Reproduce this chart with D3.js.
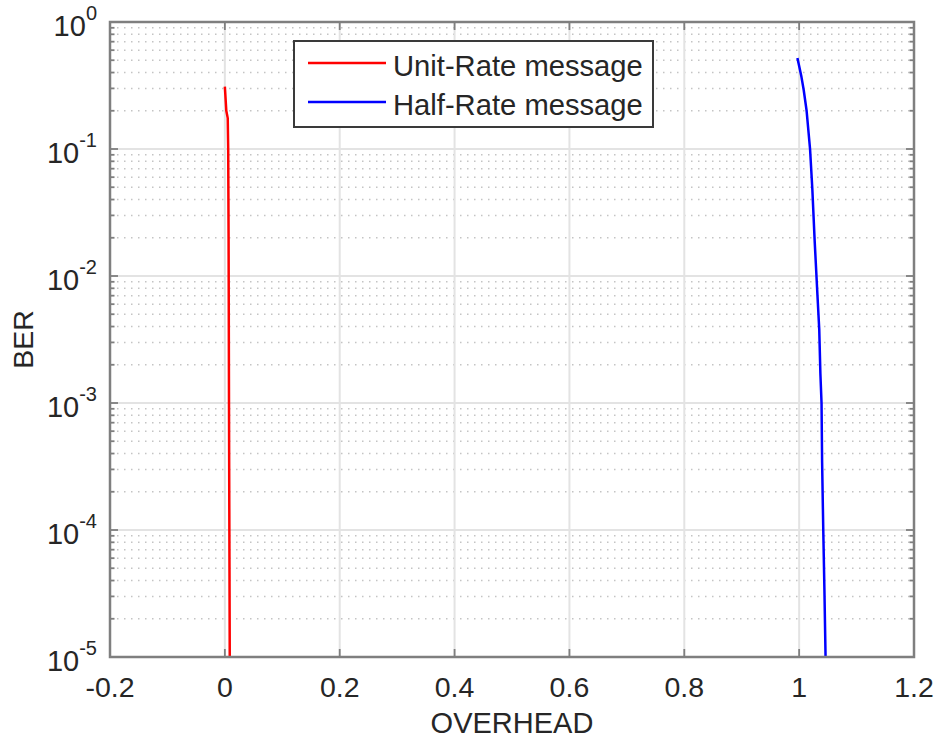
<!DOCTYPE html>
<html>
<head>
<meta charset="utf-8">
<script src="https://cdn.jsdelivr.net/npm/d3@7"></script>
<style>
  html, body { margin: 0; padding: 0; background: #fff; }
  svg { display: block; font-family: "Liberation Sans", Arial, Helvetica, sans-serif; }
</style>
</head>
<body>
<svg id="chart" width="938" height="740"></svg>
<script>
// BER versus overhead for two message rates
const unitRateOverhead = [0.000, 0.0025, 0.005, 0.0058, 0.0065, 0.0072, 0.0085];
const unitRateBER      = [0.31, 0.20, 0.175, 0.10, 0.02, 1e-3, 1e-5];

const halfRateOverhead = [0.997, 1.004, 1.008, 1.013, 1.019, 1.023, 1.027, 1.032, 1.035, 1.037, 1.039, 1.040, 1.042, 1.044, 1.046];
const halfRateBER      = [0.52, 0.37, 0.29, 0.20, 0.10, 0.048, 0.019, 0.0069, 0.0038, 0.0017, 1e-3, 3.4e-4, 1e-4, 3.4e-5, 1e-5];

const xTicks = [-0.2, 0, 0.2, 0.4, 0.6, 0.8, 1, 1.2];
const xTickLabels = ["-0.2", "0", "0.2", "0.4", "0.6", "0.8", "1", "1.2"];
const yExponents = [0, -1, -2, -3, -4, -5];

const seriesNames = ["Unit-Rate message", "Half-Rate message"];
const seriesColors = ["#ff0000", "#0000ff"];

const svg = d3.select("#chart");
const box = { left: 110, right: 914, top: 22, bottom: 657 };
const axisColor = "#7f7f7f";
const textColor = "#262626";

const x = d3.scaleLinear().domain([-0.2, 1.2]).range([box.left, box.right]);
const y = d3.scaleLog().domain([1e-5, 1]).range([box.bottom, box.top]);

// minor log positions 2..9 in each decade
const minorY = [];
yExponents.slice(1).forEach(e => {
  for (let k = 2; k <= 9; k++) minorY.push(k * Math.pow(10, e));
});
const majorY = yExponents.map(e => Math.pow(10, e));

const grid = svg.append("g");
// dotted minor grid
grid.selectAll("line.minor").data(minorY).join("line")
  .attr("x1", box.left).attr("x2", box.right)
  .attr("y1", d => y(d)).attr("y2", d => y(d))
  .attr("stroke", "#c4c4c4").attr("stroke-width", 1.5)
  .attr("stroke-dasharray", "1.5,5.5");
// solid major grid
grid.selectAll("line.majy").data(majorY).join("line")
  .attr("x1", box.left).attr("x2", box.right)
  .attr("y1", d => y(d)).attr("y2", d => y(d))
  .attr("stroke", "#e3e3e3").attr("stroke-width", 2);
grid.selectAll("line.majx").data(xTicks).join("line")
  .attr("x1", d => x(d)).attr("x2", d => x(d))
  .attr("y1", box.top).attr("y2", box.bottom)
  .attr("stroke", "#e3e3e3").attr("stroke-width", 2);

// curves
const line = d3.line().x(d => x(d[0])).y(d => y(d[1]));
const series = [
  d3.zip(unitRateOverhead, unitRateBER),
  d3.zip(halfRateOverhead, halfRateBER)
];
svg.append("g").selectAll("path").data(series).join("path")
  .attr("d", line)
  .attr("fill", "none")
  .attr("stroke", (d, i) => seriesColors[i])
  .attr("stroke-width", 2.5)
  .attr("stroke-linejoin", "round");

// axes: ticks drawn inward on all four sides
const axes = svg.append("g");
const majLen = 8, minLen = 4.5;
const tickG = axes.append("g").attr("stroke", axisColor).attr("stroke-width", 1.8);
xTicks.forEach(t => {
  tickG.append("line").attr("x1", x(t)).attr("x2", x(t)).attr("y1", box.bottom).attr("y2", box.bottom - majLen);
  tickG.append("line").attr("x1", x(t)).attr("x2", x(t)).attr("y1", box.top).attr("y2", box.top + majLen);
});
majorY.forEach(t => {
  tickG.append("line").attr("x1", box.left).attr("x2", box.left + majLen).attr("y1", y(t)).attr("y2", y(t));
  tickG.append("line").attr("x1", box.right).attr("x2", box.right - majLen).attr("y1", y(t)).attr("y2", y(t));
});
minorY.forEach(t => {
  tickG.append("line").attr("x1", box.left).attr("x2", box.left + minLen).attr("y1", y(t)).attr("y2", y(t));
  tickG.append("line").attr("x1", box.right).attr("x2", box.right - minLen).attr("y1", y(t)).attr("y2", y(t));
});
axes.append("rect")
  .attr("x", box.left).attr("y", box.top)
  .attr("width", box.right - box.left).attr("height", box.bottom - box.top)
  .attr("fill", "none").attr("stroke", axisColor).attr("stroke-width", 2.5);

// x tick labels
axes.append("g").selectAll("text").data(xTicks).join("text")
  .attr("x", d => x(d)).attr("y", box.bottom + 40)
  .attr("text-anchor", "middle")
  .attr("font-size", 28.5).attr("fill", textColor)
  .text((d, i) => xTickLabels[i]);

// y tick labels as 10^n
const yl = axes.append("g").selectAll("text").data(yExponents).join("text")
  .attr("x", box.left - 13).attr("y", d => y(Math.pow(10, d)) + 14)
  .attr("text-anchor", "end")
  .attr("fill", textColor);
yl.append("tspan").attr("font-size", 29).text("10");
yl.append("tspan").attr("font-size", 20).attr("dy", -16).text(d => d === 0 ? "0" : "-" + Math.abs(d));

// axis titles
svg.append("text")
  .attr("x", (box.left + box.right) / 2).attr("y", 733)
  .attr("text-anchor", "middle").attr("font-size", 29).attr("fill", textColor)
  .text("OVERHEAD");
svg.append("text")
  .attr("transform", `translate(33,${(box.top + box.bottom) / 2}) rotate(-90)`)
  .attr("text-anchor", "middle").attr("font-size", 28.5).attr("fill", textColor)
  .text("BER");

// legend
const lg = svg.append("g");
lg.append("rect").attr("x", 294).attr("y", 41).attr("width", 359).attr("height", 86)
  .attr("fill", "#fff").attr("stroke", "#3a3a3a").attr("stroke-width", 2);
const rows = lg.selectAll("g.row").data(seriesNames).join("g")
  .attr("transform", (d, i) => `translate(0,${63 + i * 39})`);
rows.append("line").attr("x1", 308).attr("x2", 386).attr("y1", 0).attr("y2", 0)
  .attr("stroke", (d, i) => seriesColors[i]).attr("stroke-width", 2.5);
rows.append("text").attr("x", 393).attr("y", 13)
  .attr("font-size", 29.2).attr("fill", textColor)
  .text(d => d);
</script>
</body>
</html>
